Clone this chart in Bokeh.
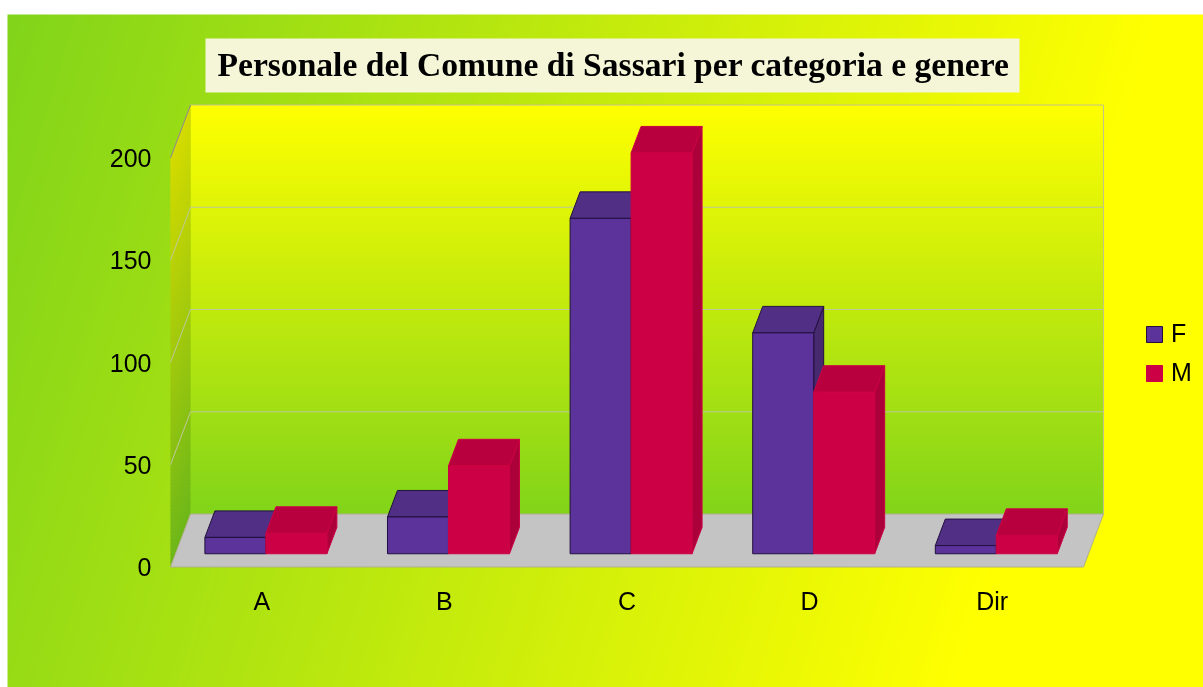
import numpy as np
from bokeh.core.properties import value
from bokeh.embed import file_html
from bokeh.models import FixedTicker, Legend, LegendItem, Range1d
from bokeh.plotting import figure
from bokeh.resources import INLINE

title_text = "Personale del Comune di Sassari per categoria e genere"
categories = ["A", "B", "C", "D", "Dir"]
series_f = [8, 18, 164, 108, 4]
series_m = [10, 43, 196, 79, 9]
y_ticks = [0, 50, 100, 150, 200]

W, H = 1203, 687
X0, Y0 = 170.0, 566.5            # front-left corner of the floor, in pixels
UX = 182.6                       # pixels per category
UY = 2.045                       # pixels per value unit
DX = 20.0 / UX                   # depth shift, back of the box, data units
DY = 53.0 / UY
BAR_W = 0.334
BAR_X = 0.161
Z0, Z1 = 0.25, 0.75
GREEN = np.array([129, 212, 26], dtype=float)
YELLOW = np.array([255, 255, 0], dtype=float)
F_FRONT, F_TOP, F_SIDE, F_EDGE = "#5c339b", "#512f85", "#47296f", "#22103f"
M_FRONT, M_TOP, M_SIDE = "#cc0044", "#b9003e", "#ab0039"

def px(x):
    return (x - X0) / UX

def py(y):
    return (Y0 - y) / UY

p = figure(width=W, height=H, output_backend="svg", toolbar_location=None,
           x_range=Range1d(px(0), px(W)), y_range=Range1d(py(H), py(0)),
           min_border=0, outline_line_color=None, background_fill_color="white",
           border_fill_color="white")
p.styles = {"position": "fixed", "left": "0px", "top": "0px"}
p.grid.visible = False

# page gradient
bx0, by0 = 7, 14
nx, ny = W - bx0, H - by0
xx, yy = np.meshgrid(np.arange(nx), np.arange(ny)[::-1])
t = np.clip((xx + 0.30 * yy) / 1150.0, 0, 1)[..., None]
rgb = (GREEN + (YELLOW - GREEN) * t).round().astype(np.uint8)
img = np.zeros((ny, nx), dtype=np.uint32)
view = img.view(dtype=np.uint8).reshape((ny, nx, 4))
view[..., :3] = rgb
view[..., 3] = 255
p.image_rgba(image=[img], x=px(bx0), y=py(H), dw=nx / UX, dh=ny / UY)

# walls, as slices of a gradient
n = len(categories)
vmax = y_ticks[-1]
steps = 110
bx, by, bc, lx, ly, lc = [], [], [], [], [], []
for i in range(steps):
    a = vmax * i / steps
    b = vmax * (i + 1) / steps
    e = min(vmax, b + 0.6)
    c = GREEN + (YELLOW - GREEN) * ((a + b) / 2 / vmax)
    bx.append([DX, n + DX, n + DX, DX])
    by.append([a + DY, a + DY, e + DY, e + DY])
    bc.append("#%02x%02x%02x" % tuple(int(round(k)) for k in c))
    lx.append([0, DX, DX, 0])
    ly.append([a, a + DY, e + DY, e])
    lc.append("#%02x%02x%02x" % tuple(int(round(k)) for k in c * np.array([0.84, 0.86, 1.0])))
p.patches(bx, by, fill_color=bc, line_color=None)
p.patches(lx, ly, fill_color=lc, line_color=None)

# gridlines
gx, gy = [], []
for v in y_ticks[1:-1]:
    gx.append([0, DX, n + DX])
    gy.append([v, v + DY, v + DY])
p.multi_line(gx, gy, line_color="#bfc99a", line_width=1)
p.line([0, DX, n + DX, n + DX], [vmax, vmax + DY, vmax + DY, DY], line_color="#c4c48a", line_width=1)
p.line([0, DX], [vmax, vmax + DY], line_color="#8c8c70", line_width=1)

# floor
p.patch([0, n, n + DX, DX], [0, 0, DY, DY], fill_color="#c4c4c4", line_color="#b0b08c", line_width=1)

# bars
def bars(values, offset, front, top, side, edge):
    xl = [i + BAR_X + offset for i in range(n)]
    xr = [a + BAR_W for a in xl]
    sx = [[b + Z0 * DX, b + Z1 * DX, b + Z1 * DX, b + Z0 * DX] for b in xr]
    sy = [[Z0 * DY, Z1 * DY, v + Z1 * DY, v + Z0 * DY] for v in values]
    p.patches(sx, sy, fill_color=side, line_color=edge, line_width=1)
    tx = [[a + Z0 * DX, b + Z0 * DX, b + Z1 * DX, a + Z1 * DX] for a, b in zip(xl, xr)]
    ty = [[v + Z0 * DY, v + Z0 * DY, v + Z1 * DY, v + Z1 * DY] for v in values]
    p.patches(tx, ty, fill_color=top, line_color=edge, line_width=1)
    return p.quad(left=[a + Z0 * DX for a in xl], right=[b + Z0 * DX for b in xr],
                  bottom=[Z0 * DY] * n, top=[v + Z0 * DY for v in values],
                  fill_color=front, line_color=edge, line_width=1)

r_f = bars(series_f, 0, F_FRONT, F_TOP, F_SIDE, F_EDGE)
r_m = bars(series_m, BAR_W, M_FRONT, M_TOP, M_SIDE, M_FRONT)

# axes inside the full-page frame
FONT = "Liberation Sans"
ya = p.yaxis[0]
ya.fixed_location = px(151)
ya.ticker = FixedTicker(ticks=y_ticks)
xa = p.xaxis[0]
xa.fixed_location = py(586)
xa.ticker = FixedTicker(ticks=[i + 0.5 for i in range(n)])
xa.major_label_overrides = {i + 0.5: c for i, c in enumerate(categories)}
for ax in (xa, ya):
    ax.axis_line_color = None
    ax.major_tick_line_color = None
    ax.minor_tick_line_color = None
    ax.major_tick_out = 0
    ax.major_tick_in = 0
    ax.major_label_standoff = 0
    ax.major_label_text_font = FONT
    ax.major_label_text_font_size = "25px"
    ax.major_label_text_color = "black"

# title
p.quad(left=[px(205)], right=[px(1019)], bottom=[py(92)], top=[py(38)],
       fill_color="#f5f6d7", line_color=None)
p.text(x=[px(613)], y=[py(64)], text=[title_text], text_font=value("Liberation Serif"),
       text_font_style="bold", text_font_size="33.6px", text_color="black",
       text_align="center", text_baseline="middle")

# legend
legend = Legend(items=[LegendItem(label="F", renderers=[r_f]), LegendItem(label="M", renderers=[r_m])],
                location=(1144, H - 387), orientation="vertical", background_fill_alpha=0,
                border_line_color=None, padding=0, margin=0, spacing=10, glyph_width=20,
                glyph_height=20, label_standoff=7, label_text_font=FONT,
                label_text_font_size="25px", label_text_color="black")
p.add_layout(legend)

open("out.html", "w").write(file_html(p, INLINE))
